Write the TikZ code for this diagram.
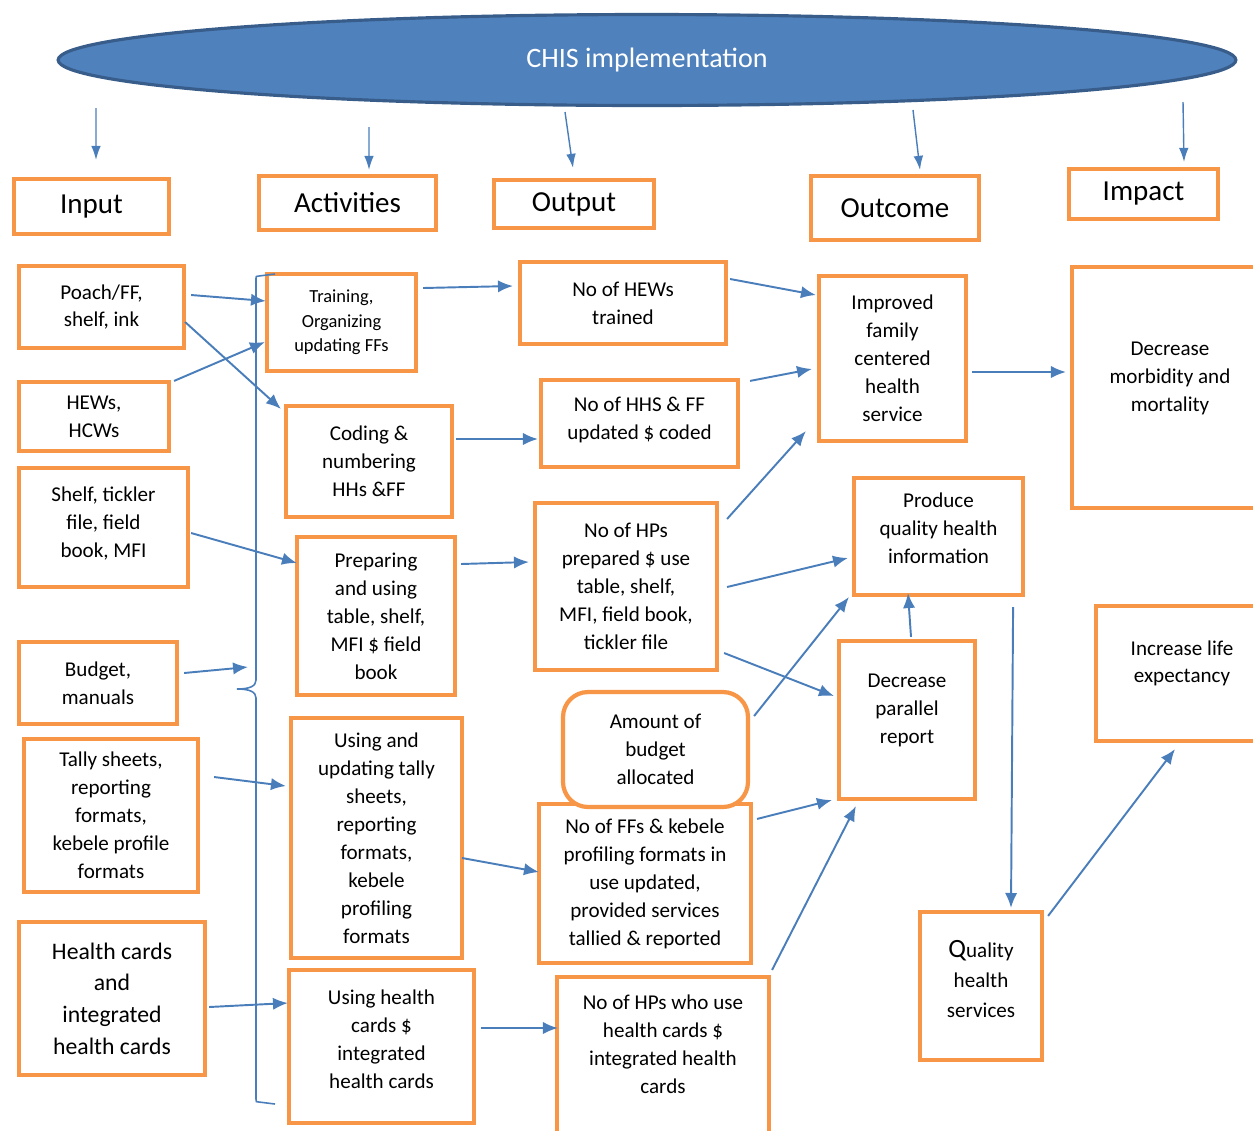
\documentclass[tikz,border=0pt]{standalone}
\usepackage{fontspec}
\setmainfont{Carlito}
\usetikzlibrary{arrows.meta,shapes.geometric}
\definecolor{chisorange}{HTML}{F79646}
\definecolor{chisblue}{HTML}{4A7EBB}
\definecolor{chisfill}{HTML}{4F81BD}
\definecolor{chisedge}{HTML}{385D8A}
\newcommand{\boxfont}{\fontsize{12}{15.9}\selectfont}
\newcommand{\smallboxfont}{\fontsize{10.5}{14}\selectfont}
\newcommand{\bigboxfont}{\fontsize{13.5}{18}\selectfont}
\newcommand{\headfont}{\fontsize{16.5}{20}\selectfont}

\begin{document}
\begin{tikzpicture}[
        x=0.02cm, y=-0.02cm,
        every node/.style={font=\boxfont, align=center},
        box/.style={draw=chisorange, line width=2.4pt, fill=white, inner sep=2pt},
        head/.style={box, font=\headfont},
        arrow/.style={-{Latex[length=8.5pt, width=7pt]}, draw=chisblue, line width=1.1pt},
        toparrow/.style={-{Latex[length=8pt, width=5.5pt]}, draw=chisblue, line width=0.8pt}
    ]
    \useasboundingbox (0,0) rectangle (1253,1130);
    \clip (0,0) rectangle (1253,1130);

    % banner
    \node[ellipse, draw=chisedge, line width=1.8pt, fill=chisfill, text=white,
          font=\fontsize{16}{19}\selectfont, minimum width=23.56cm, minimum height=1.82cm] (chis) at (647,60) {CHIS implementation};
    \coordinate (inTop) at (96,108);
    \coordinate (actTop) at (369,127);
    \coordinate (outTop) at (565,112);
    \coordinate (ocTop) at (913,110);
    \coordinate (imTop) at (1183,102);

    % column headings
    \node[head, minimum width=3.10cm, minimum height=1.10cm] (input) at (91.5,206.5) {Input};
    \node[head, minimum width=3.54cm, minimum height=1.08cm] (activ) at (347.5,203) {Activities};
    \node[head, minimum width=3.20cm, minimum height=0.96cm] (output) at (574,204) {Output};
    \node[head, minimum width=3.36cm, minimum height=1.28cm] (outcome) at (895,208) {Outcome};
    \node[head, minimum width=2.98cm, minimum height=1.00cm] (impact) at (1143.5,194) {Impact};

    % inputs
    \node[box, minimum width=3.30cm, minimum height=1.64cm] (poach) at (101.5,307) {Poach/FF,\\shelf, ink};
    \node[box, minimum width=3.00cm, minimum height=1.38cm] (hews) at (94,416.5) {HEWs,\\HCWs};
    \node[box, minimum width=3.38cm, minimum height=2.38cm, text depth=6pt] (shelf) at (103.5,527.5) {Shelf, tickler\\file, field\\book, MFI};
    \node[box, minimum width=3.16cm, minimum height=1.64cm] (budget) at (98,683) {Budget,\\manuals};
    \node[box, minimum width=3.48cm, minimum height=3.06cm] (tally) at (111,815.5) {Tally sheets,\\reporting\\formats,\\kebele profile\\formats};
    \node[box, font=\bigboxfont, minimum width=3.72cm, minimum height=3.06cm] (hcards) at (112,998.5) {Health cards\\and\\integrated\\health cards};

    % activities
    \node[box, font=\smallboxfont, minimum width=2.98cm, minimum height=1.94cm] (train) at (341.5,322.5) {Training,\\Organizing\\updating FFs};
    \node[box, minimum width=3.32cm, minimum height=2.22cm] (coding) at (369,461.5) {Coding \&\\numbering\\HHs \&FF};
    \node[box, minimum width=3.16cm, minimum height=3.16cm] (prep) at (376,616) {Preparing\\and using\\table, shelf,\\MFI \$ field\\book};
    \node[box, minimum width=3.42cm, minimum height=4.80cm] (using) at (376.5,838) {Using and\\updating tally\\sheets,\\reporting\\formats,\\kebele\\profiling\\formats};
    \node[box, minimum width=3.70cm, minimum height=3.06cm, text depth=8pt] (hcuse) at (381.5,1046.5) {Using health\\cards \$\\integrated\\health cards};
    \coordinate (bracein) at (248,667);
    \draw[chisblue, line width=0.9pt] (275,274) -- (259,276) .. controls (256,276) .. (256,280) -- (256,680)
        .. controls (256,686) and (250,689) .. (237,689) .. controls (250,689) and (256,692) .. (256,698)
        -- (256,1099) .. controls (256,1102) .. (259,1102) -- (275,1104);

    % outputs
    \node[box, minimum width=4.12cm, minimum height=1.64cm] (hewt) at (623,303) {No of HEWs\\trained};
    \node[box, minimum width=3.94cm, minimum height=1.74cm, text depth=6pt] (hhs) at (639.5,423.5) {No of HHS \& FF\\updated \$ coded};
    \node[box, minimum width=3.64cm, minimum height=3.34cm] (hps) at (626,586.5) {No of HPs\\prepared \$ use\\table, shelf,\\MFI, field book,\\tickler file};
    \node[box, minimum width=4.24cm, minimum height=3.18cm] (ffs) at (645,883.5) {No of FFs \& kebele\\profiling formats in\\use updated,\\provided services\\tallied \& reported};
    \node[box, rounded corners=0.5cm, minimum width=3.70cm, minimum height=2.30cm] (budg) at (655.5,749.5) {Amount of\\budget\\allocated};
    \node[box, minimum width=4.24cm, minimum height=3.42cm,
          label={[anchor=north, yshift=-0.28cm]north:No of HPs who use\\health cards \$\\integrated health\\cards}] (hpcards) at (663,1062.5) {};

    % outcomes
    \node[box, minimum width=2.94cm, minimum height=3.30cm] (improved) at (892.5,358.5) {Improved\\family\\centered\\health\\service};
    \node[box, minimum width=3.38cm, minimum height=2.34cm, text depth=9pt] (produce) at (938.5,536.5) {Produce\\quality health\\information};
    \node[box, minimum width=2.72cm, minimum height=3.16cm, text depth=12.5pt] (decpar) at (907,720) {Decrease\\parallel\\report};
    \node[box, font=\fontsize{12}{17}\selectfont, minimum width=2.44cm, minimum height=2.96cm, text depth=8pt] (quality) at (981,986) {{\fontsize{15}{17}\selectfont Q}uality\\health\\services};

    % impacts
    \node[box, minimum width=3.92cm, minimum height=4.82cm, text depth=12.5pt] (morbid) at (1170,387.5) {Decrease\\morbidity and\\mortality};
    \node[box, minimum width=3.44cm, minimum height=2.70cm, text depth=13.5pt] (life) at (1182,673.5) {Increase life\\expectancy};

    % arrows from the banner
    \draw[toparrow] (inTop) -- ([shift={(4.5,-17)}]input.north);
    \draw[toparrow] (actTop) -- ([shift={(21.5,-4)}]activ.north);
    \draw[toparrow] (outTop) -- ([shift={(-1,-10)}]output.north);
    \draw[toparrow] (ocTop) -- ([shift={(25,-4)}]outcome.north);
    \draw[toparrow] (imTop) -- ([shift={(40.5,-5)}]impact.north);

    % inputs to activities
    \draw[arrow] ([shift={(5,-12)}]poach.east) -- ([shift={(1,-21.5)}]train.west);
    \draw[arrow] ([shift={(-1,15)}]poach.east) -- ([shift={(-3,5)}]coding.north west);
    \draw[arrow] ([shift={(3,1)}]hews.north east) -- ([shift={(0,19.5)}]train.west);
    \draw[arrow] ([shift={(1,5.5)}]shelf.east) -- ([shift={(2,-53)}]prep.west);
    \draw[arrow] ([shift={(5,-10)}]budget.east) -- (bracein);
    \draw[arrow] ([shift={(14,-38.5)}]tally.east) -- ([shift={(-3,-52)}]using.west);
    \draw[arrow] ([shift={(2,8.5)}]hcards.east) -- ([shift={(1,-43.5)}]hcuse.west);

    % activities to outputs
    \draw[arrow] ([shift={(5,-34.5)}]train.east) -- ([shift={(-5,-17)}]hewt.west);
    \draw[arrow] ([shift={(2,-22.5)}]coding.east) -- ([shift={(-1,15.5)}]hhs.west);
    \draw[arrow] ([shift={(4,-52)}]prep.east) -- ([shift={(-4,-24.5)}]hps.west);
    \draw[arrow] ([shift={(-2,20)}]using.east) -- ([shift={(2,-11.5)}]ffs.west);
    \draw[arrow] ([shift={(5,-18.5)}]hcuse.east) -- ([shift={(3,-34.5)}]hpcards.west);

    % outputs to outcomes
    \draw[arrow] ([shift={(2,-24)}]hewt.east) -- ([shift={(-1,-63.5)}]improved.west);
    \draw[arrow] ([shift={(10,3)}]hhs.north east) -- ([shift={(-5,10.5)}]improved.west);
    \draw[arrow] ([shift={(8,18)}]hps.north east) -- ([shift={(-11,-12)}]improved.south west);
    \draw[arrow] ([shift={(8,0.5)}]hps.east) -- ([shift={(-4,21.5)}]produce.west);
    \draw[arrow] ([shift={(5,66.5)}]hps.east) -- ([shift={(-3,-24)}]decpar.west);
    \draw[arrow] ([shift={(4,-33.5)}]budg.east) -- ([shift={(-3,0)}]produce.south west);
    \draw[arrow] ([shift={(4,17)}]ffs.north east) -- ([shift={(-5,-1)}]decpar.south west);
    \draw[arrow] ([shift={(1,-5)}]hpcards.north east) -- ([shift={(19,5)}]decpar.south west);
    \draw[arrow] ([shift={(4,-2)}]decpar.north) -- ([shift={(-30.5,-4)}]produce.south);

    % outcomes to impacts
    \draw[arrow] ([shift={(4,13.5)}]improved.east) -- ([shift={(-4,-15.5)}]morbid.west);
    \draw[arrow] ([shift={(-12,10)}]produce.south east) -- ([shift={(30,-2)}]quality.north);
    \draw[arrow] ([shift={(4,6)}]quality.north east) -- ([shift={(-7,6)}]life.south);
\end{tikzpicture}
\end{document}
